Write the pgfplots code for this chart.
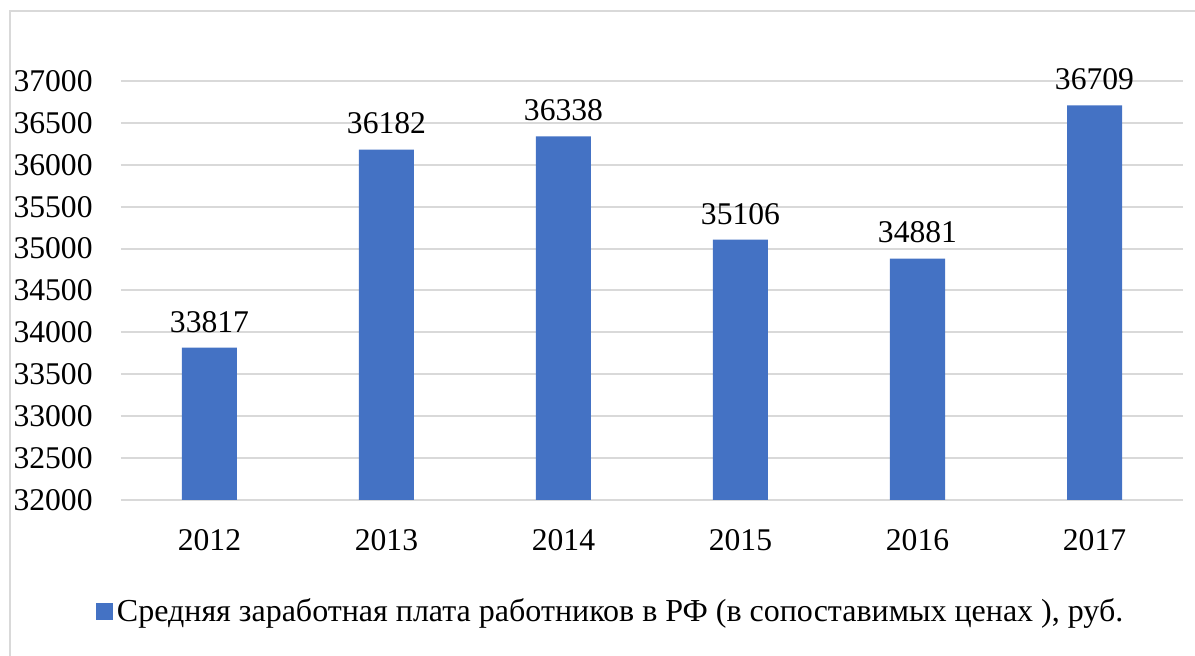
\documentclass[border=0pt]{standalone}
\usepackage{fontspec}
\setmainfont{Liberation Serif}
\usepackage{pgfplots}
\pgfplotsset{compat=1.18}
\definecolor{barblue}{HTML}{4472C4}
\definecolor{gridgrey}{HTML}{D9D9D9}
\newcommand\lbl{\fontsize{15.8}{18}\selectfont}
\newcommand\leg{\fontsize{16}{19}\selectfont}
\begin{document}
\begin{tikzpicture}[x=1pt,y=1pt]
\useasboundingbox (-60.5,-78) rectangle (537,250);
\draw[gridgrey, line width=1pt] (-55.5,-78) -- (-55.5,244.5) -- (537,244.5);
\begin{axis}[
  at={(0,0)}, anchor=south west,
  scale only axis, width=531pt, height=209.5pt,
  xmin=-0.5, xmax=5.5, ymin=32000, ymax=37000,
  ytick={32000,32500,...,37000},
  xtick={0,...,5}, xticklabels={2012,2013,2014,2015,2016,2017},
  ymajorgrids, grid style={gridgrey, line width=1pt},
  axis line style={draw=none},
  major tick length=0pt,
  scaled y ticks=false,
  /pgf/number format/.cd, fixed, precision=0, 1000 sep={}, assume math mode=true, /pgfplots/.cd,
  ticklabel style={font=\lbl, inner sep=0pt},
  yticklabel style={xshift=-14pt},
  xticklabel style={yshift=-14.5pt},
  ybar, bar width=27.5pt,
  clip=false,
  nodes near coords,
  every node near coord/.append style={font=\lbl, inner sep=0pt, yshift=7.5pt, black},
  legend style={draw=none, fill=none, at={(0.462,-0.267)}, anchor=center, font=\leg},
  legend image code/.code={\fill[barblue] (0pt,-4.25pt) rectangle (8.5pt,4.25pt);},
]
\addplot[fill=barblue, draw=none] coordinates {(0,33817) (1,36182) (2,36338) (3,35106) (4,34881) (5,36709)};
\addlegendentry{Средняя заработная плата работников в РФ (в сопоставимых ценах ), руб.}
\end{axis}
\end{tikzpicture}
\end{document}
